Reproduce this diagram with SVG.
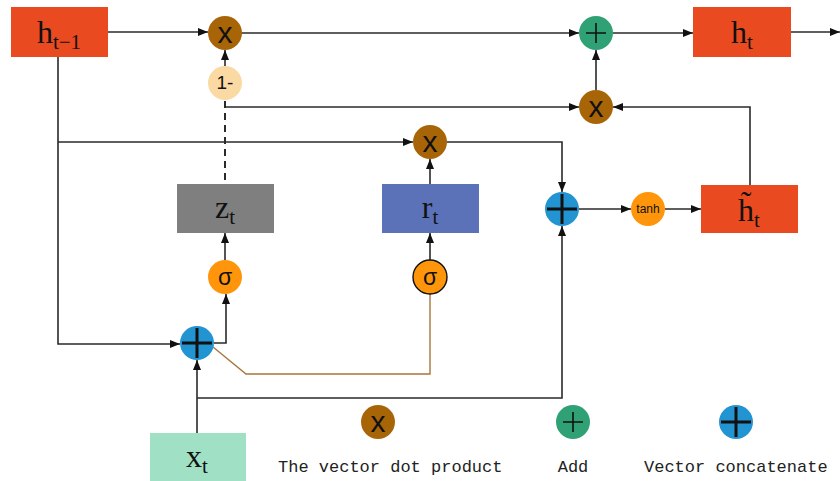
<svg xmlns="http://www.w3.org/2000/svg" width="840" height="481" viewBox="0 0 840 481">
<style>
.ln{fill:none;stroke:#2a2a2a;stroke-width:1.6}
.ar{marker-end:url(#ah)}
.dash{stroke-dasharray:7,5;stroke-width:2}
.brn{fill:none;stroke:#A8763A;stroke-width:1.4}
.hbox{fill:#EA4A20}
.mul{fill:#A86508}
.add{fill:#2FA174}
.cat{fill:#2394D2}
.sig{fill:#FF950A}
.lbl{font-family:"Liberation Serif","DejaVu Serif",serif;font-size:32px;fill:#111;text-anchor:middle}
.sub{font-size:21px}
.sym{font-family:"Liberation Sans",Arial,sans-serif;fill:#111;text-anchor:middle}
.xs{font-size:30px}
.leg{font-family:"Liberation Mono","DejaVu Sans Mono",monospace;font-size:17px;fill:#222}
.plus{stroke:#111;stroke-width:1.6}
.cplus{stroke:#111;stroke-width:3}
</style>
<defs>
<marker id="ah" markerUnits="userSpaceOnUse" markerWidth="10" markerHeight="10" viewBox="0 0 10 10" refX="10" refY="5" orient="auto">
<path d="M0,1 L10,5 L0,9 Z" fill="#111"/>
</marker>
</defs>
<rect width="840" height="481" fill="#fff"/>

<g id="connectors">
<path class="ln ar" d="M108,32 H208"/>
<path class="ln ar" d="M240,33 H579"/>
<path class="ln ar" d="M613,33 H693"/>
<path class="ln ar" d="M791,32 H840"/>
<path class="ln ar" d="M225,66 V50"/>
<path class="ln dash" d="M225,101 V184"/>
<path class="ln ar" d="M225,107 H579"/>
<path class="ln ar" d="M596,90 V50"/>
<path class="ln ar" d="M750,185 V107 H613"/>
<path class="ln ar" d="M58,57 V344 H180"/>
<path class="ln ar" d="M58,142 H413"/>
<path class="ln ar" d="M430,184 V159"/>
<path class="ln ar" d="M447,142 H562 V192"/>
<path class="ln ar" d="M579,209 H631"/>
<path class="ln ar" d="M665,209 H701"/>
<path class="ln ar" d="M214,343 H226 V294"/>
<path class="ln ar" d="M225,260 V233"/>
<path class="ln ar" d="M430,260 V233"/>
<path class="brn" d="M213,347 L246,374 H430 V294"/>
<path class="ln ar" d="M197,433 V360"/>
<path class="ln ar" d="M197,398 H562 V226"/>
</g>

<g id="h_prev">
<rect class="hbox" x="11" y="7" width="97" height="50"/>
<text class="lbl" x="59" y="43">h<tspan class="sub" dy="6">t−1</tspan></text>
</g>
<g id="h_t">
<rect class="hbox" x="693" y="7" width="98" height="50"/>
<text class="lbl" x="742" y="43">h<tspan class="sub" dy="6">t</tspan></text>
</g>
<g id="h_tilde">
<rect class="hbox" x="701" y="185" width="97" height="48"/>
<text class="lbl" x="749" y="221">h̃<tspan class="sub" dy="6">t</tspan></text>
</g>
<g id="z_t">
<rect x="177" y="184" width="97" height="49" fill="#7F7F7F"/>
<text class="lbl" x="225" y="218">z<tspan class="sub" dy="6">t</tspan></text>
</g>
<g id="r_t">
<rect x="382" y="184" width="97" height="49" fill="#5B72B8"/>
<text class="lbl" x="430" y="218">r<tspan class="sub" dy="6">t</tspan></text>
</g>
<g id="x_t">
<rect x="150" y="433" width="96" height="48" fill="#A0E0C5"/>
<text class="lbl" x="197" y="467">x<tspan class="sub" dy="6">t</tspan></text>
</g>

<g id="mul1">
<circle class="mul" cx="225" cy="33" r="17"/>
<text class="sym xs" x="225" y="43">x</text>
</g>
<g id="one_minus">
<circle cx="225" cy="83" r="17" fill="#FBD9A3"/>
<text class="sym" x="225" y="89" font-size="19">1-</text>
</g>
<g id="add1">
<circle class="add" cx="596" cy="33" r="17"/>
<path class="plus" d="M586,33 H606 M596,23 V43"/>
</g>
<g id="mul2">
<circle class="mul" cx="596" cy="107" r="17"/>
<text class="sym xs" x="596" y="117">x</text>
</g>
<g id="mul3">
<circle class="mul" cx="430" cy="142" r="17"/>
<text class="sym xs" x="430" y="152">x</text>
</g>
<g id="concat2">
<circle class="cat" cx="562" cy="209" r="17"/>
<path class="cplus" d="M547,209 H577 M562,194 V224"/>
</g>
<g id="tanh">
<circle class="sig" cx="648" cy="209" r="17"/>
<text class="sym" x="648" y="213" font-size="12">tanh</text>
</g>
<g id="sigma_z">
<circle class="sig" cx="225" cy="277" r="17"/>
<text class="sym" x="225" y="285" font-size="23">σ</text>
</g>
<g id="sigma_r">
<circle class="sig" cx="430" cy="277" r="17" stroke="#111" stroke-width="1.4"/>
<text class="sym" x="430" y="285" font-size="23">σ</text>
</g>
<g id="concat1">
<circle class="cat" cx="197" cy="343" r="17"/>
<path class="cplus" d="M182,343 H212 M197,328 V358"/>
</g>

<g id="legend">
<circle class="mul" cx="378" cy="422" r="17"/>
<text class="sym xs" x="378" y="432">x</text>
<text class="leg" x="278" y="472">The vector dot product</text>
<circle class="add" cx="573" cy="422" r="17"/>
<path class="plus" d="M563,422 H583 M573,412 V432"/>
<text class="leg" x="573" y="472" text-anchor="middle">Add</text>
<circle class="cat" cx="736" cy="422" r="17"/>
<path class="cplus" d="M721,422 H751 M736,407 V437"/>
<text class="leg" x="644" y="472">Vector concatenate</text>
</g>
</svg>
